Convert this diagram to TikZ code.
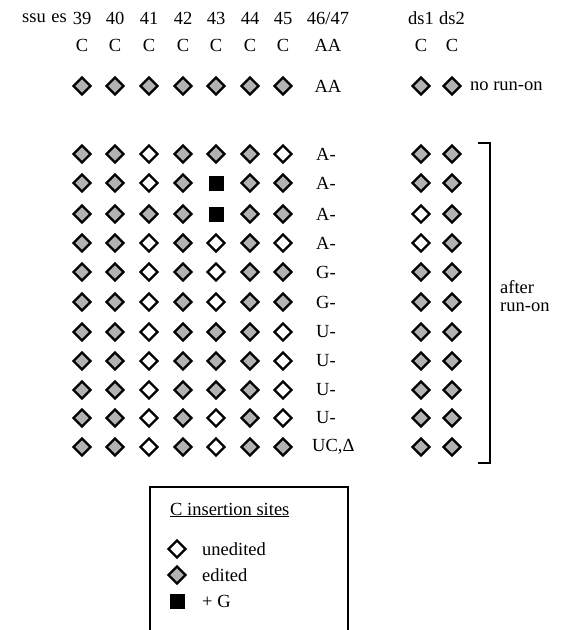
\documentclass[tikz,border=0pt]{standalone}
\usepackage{fontspec}
\setmainfont{Liberation Serif}
\usetikzlibrary{shapes.geometric}
\tikzset{
  txt/.style={inner sep=0pt, font=\fontsize{18.5}{21}\selectfont},
  site/.style={shape=diamond, draw=black, line width=2.4pt, minimum width=18pt,
    minimum height=18pt, inner sep=0pt, aspect=1},
  site f/.style={site, fill=black!30},
  site o/.style={site, fill=white},
  site s/.style={shape=rectangle, fill=black, draw=none, minimum size=15pt, inner sep=0pt},
  frame/.style={line width=1.3pt},
}
\begin{document}
\begin{tikzpicture}[x=1pt,y=-1pt]
\useasboundingbox (0,0) rectangle (563,630);

% column headings
\node[txt, anchor=east] (hssu) at (67,18) {ssu\hspace{0.3em}es};
\foreach \lab/\x [count=\c] in {39/82,40/115,41/149,42/183,43/216,44/250,45/283,46\slash47/328,ds1/421,ds2/452}
  \node[txt] (h\c) at (\x,18) {\lab};
\foreach \lab/\x [count=\c] in {C/82,C/115,C/149,C/183,C/216,C/250,C/283,AA/328,C/421,C/452}
  \node[txt] (b\c) at (\x,45) {\lab};

% rows of insertion sites: f = edited, o = unedited, s = +G
\def\colx{{82,115,149,183,216,250,283,421,452}}
\foreach \y/\states [count=\r] in {
   86/{f,f,f,f,f,f,f,f,f},
  154/{f,f,o,f,f,f,o,f,f},
  183/{f,f,o,f,s,f,f,f,f},
  214/{f,f,f,f,s,f,f,o,f},
  243/{f,f,o,f,o,f,o,o,f},
  272/{f,f,o,f,o,f,f,f,f},
  302/{f,f,o,f,o,f,f,f,f},
  332/{f,f,o,f,f,f,o,f,f},
  361/{f,f,o,f,f,f,o,f,f},
  390/{f,f,o,f,f,f,o,f,f},
  418/{f,f,o,f,o,f,o,f,f},
  447/{f,f,o,f,o,f,f,f,f}} {
  \foreach \s [count=\c] in \states {
    \pgfmathsetmacro\xx{\colx[\c-1]}
    \node[site \s] (r\r c\c) at (\xx,\y) {};
  }
}
\node[txt] (lab1) at (328,86) {AA};
\foreach \y/\lab [count=\r from 2] in {154/A-,183/A-,214/A-,243/A-,272/G-,302/G-,332/U-,361/U-,390/U-,418/U-}
  \node[txt, anchor=west] (lab\r) at (316,\y) {\lab};
\node[txt, anchor=west] (lab12) at (312,447) {UC,Δ};

\node[txt, anchor=west] (norun) at (470,86) {no run-on};

% bracket around the rows after run-on
\coordinate (bt) at (478,143);
\coordinate (bb) at (478,463);
\draw[frame] (bt) -- (490,143) -- (490,463) -- (bb);
\node[txt, anchor=west] (after) at (500,287) {after};
\node[txt, anchor=west] (runon) at (500,307) {run-on};

% legend
\draw[frame] (150,630) -- (150,487) -- (348,487) -- (348,630);
\node[txt, anchor=west] (ltitle) at (170,510) {\underline{C insertion sites}};
\node[site o] (lk1) at (177,549) {};
\node[txt, anchor=west] (lt1) at (202,549) {unedited};
\node[site f] (lk2) at (177,575) {};
\node[txt, anchor=west] (lt2) at (202,575) {edited};
\node[site s] (lk3) at (177,601) {};
\node[txt, anchor=west] (lt3) at (202,601) {+ G};
\end{tikzpicture}
\end{document}
